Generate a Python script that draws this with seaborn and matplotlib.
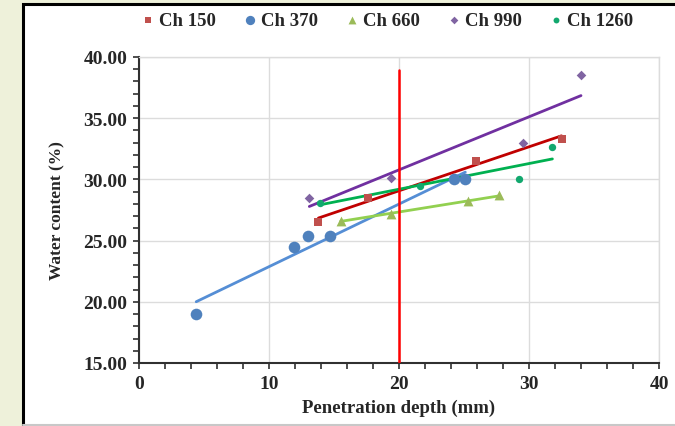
import matplotlib
matplotlib.use("Agg")
import matplotlib.pyplot as plt
from matplotlib.patches import Rectangle
from matplotlib.lines import Line2D
from matplotlib.ticker import MultipleLocator, FormatStrFormatter
import seaborn as sns
import numpy as np

# Data
ch150_x = [13.8, 17.6, 25.9, 32.5]
ch150_y = [26.5, 28.5, 31.5, 33.3]
ch370_x = [4.4, 11.9, 13.0, 14.7, 24.2, 25.1]
ch370_y = [19.0, 24.5, 25.35, 25.35, 30.0, 30.05]
ch660_x = [15.5, 19.4, 25.3, 27.7]
ch660_y = [26.6, 27.2, 28.2, 28.7]
ch990_x = [13.1, 19.4, 29.5, 34.0]
ch990_y = [28.5, 30.1, 32.95, 38.5]
ch1260_x = [13.9, 21.6, 29.2, 31.8]
ch1260_y = [28.1, 29.5, 30.0, 32.65]
labels = ["Ch 150", "Ch 370", "Ch 660", "Ch 990", "Ch 1260"]
threshold_x = 20
threshold_top = 38.9

sns.set_style("white")
plt.rcParams['font.family'] = ['Liberation Serif', 'DejaVu Serif']
plt.rcParams['font.weight'] = 'bold'

fig = plt.figure(figsize=(6.75, 4.27), dpi=100, facecolor='#eef1da')
bg = Rectangle((23/675, -0.02), 1.0, 1.02 - 5/427, transform=fig.transFigure,
               facecolor='white', edgecolor='black', linewidth=2.2, zorder=-5)
fig.patches.append(bg)
fig.lines.append(Line2D([23/675, 1], [1.2/427, 1.2/427], transform=fig.transFigure,
                        color='#c8c8c8', linewidth=1.5, zorder=-4))
ax = fig.add_axes([139/675, 1-364/427, 520/675, 306/427])
ax.set_facecolor('none')
ax.set_zorder(2)

series = [
    (ch150_x, ch150_y, 's', '#c0504d', 36, '#c00000'),
    (ch370_x, ch370_y, 'o', '#4f81bd', 70, '#558ed5'),
    (ch660_x, ch660_y, '^', '#9bbb59', 50, '#92d050'),
    (ch990_x, ch990_y, 'D', '#8064a2', 24, '#7030a0'),
    (ch1260_x, ch1260_y, 'o', '#12a86e', 28, '#00b050'),
]
for (xs, ys, m, c, s, lc), lab in zip(series, labels):
    sns.regplot(x=np.array(xs), y=np.array(ys), ax=ax, ci=None, truncate=True,
                marker=m, label=lab,
                scatter_kws=dict(color=c, s=s, linewidths=0, zorder=3, alpha=1),
                line_kws=dict(color=lc, linewidth=2, zorder=2))

ax.plot([threshold_x, threshold_x], [15, threshold_top], color='#ff0000', linewidth=1.8, zorder=4)

ax.set_xlim(0, 40)
ax.set_ylim(15, 40)
ax.xaxis.set_major_locator(MultipleLocator(10))
ax.xaxis.set_minor_locator(MultipleLocator(2))
ax.yaxis.set_major_locator(MultipleLocator(5))
ax.yaxis.set_minor_locator(MultipleLocator(1))
ax.yaxis.set_major_formatter(FormatStrFormatter('%.2f'))
ax.grid(True, which='major', color='#dcdcdc', linewidth=1)
ax.set_axisbelow(True)
for sp in ['top', 'right']:
    ax.spines[sp].set_color('#dcdcdc')
    ax.spines[sp].set_linewidth(1)
for sp in ['left', 'bottom']:
    ax.spines[sp].set_color('#303030')
    ax.spines[sp].set_linewidth(1.5)
ax.tick_params(which='both', direction='out', length=4.5, width=1.2, color='#303030',
               left=True, bottom=True)
ax.tick_params(axis='y', which='major', labelsize=14, pad=4)
ax.tick_params(axis='x', which='major', labelsize=14, pad=4)
for t in ax.get_xticklabels() + ax.get_yticklabels():
    t.set_fontweight('bold')
ax.set_xlabel('Penetration depth (mm)', fontsize=13.5, fontweight='bold', labelpad=5)
ax.set_ylabel('Water content (%)', fontsize=12.5, fontweight='bold', labelpad=13)

handles, labs = ax.get_legend_handles_labels()
fig.legend(handles, labs, loc='center', bbox_to_anchor=(386/675, 1-21/427), ncol=5,
           frameon=False, handletextpad=0.1, columnspacing=1.3, handlelength=1.0,
           markerscale=0.8, prop=dict(weight='bold', size=13.5))

fig.savefig('out.png', dpi=100, facecolor=fig.get_facecolor())
